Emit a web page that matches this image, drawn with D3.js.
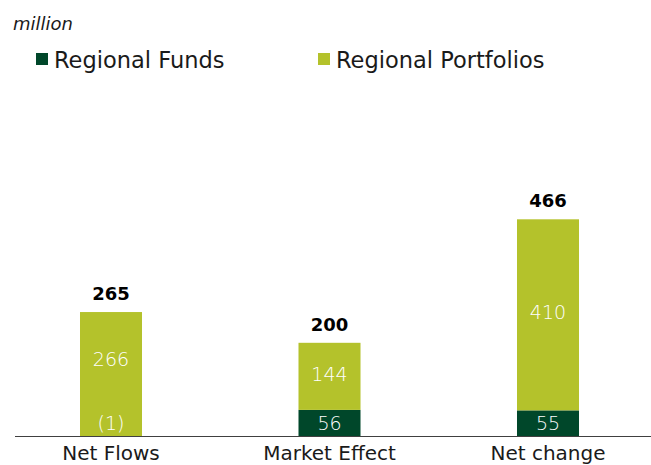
<!DOCTYPE html>
<html>
<head>
<meta charset="utf-8">
<script src="https://cdn.jsdelivr.net/npm/d3@7"></script>
<style>
  html, body { margin: 0; padding: 0; background: #fff; }
  svg { display: block; }
  text { font-family: "DejaVu Sans", "Lato", sans-serif; }
</style>
</head>
<body>
<svg id="chart" width="651" height="465"></svg>
<script>
const categories = ["Net Flows", "Market Effect", "Net change"];
const seriesNames = ["Regional Funds", "Regional Portfolios"];
const regionalFunds = [-1, 56, 55];
const regionalPortfolios = [266, 144, 410];
const totals = [265, 200, 466];
const unitLabel = "million";

const colors = { "Regional Funds": "#00472a", "Regional Portfolios": "#b4c22b" };
const svg = d3.select("#chart");

const rows = categories.map((c, i) => ({
  category: c,
  "Regional Funds": regionalFunds[i],
  "Regional Portfolios": regionalPortfolios[i],
  total: totals[i]
}));

const x = d3.scaleBand().domain(categories).range([1.75, 657.25])
  .paddingInner(0.7162).paddingOuter(0.3581);
const y = d3.scaleLinear().domain([0, 500]).range([436, 203]);

const stack = d3.stack().keys(seriesNames).offset(d3.stackOffsetDiverging);
const layers = stack(rows);

const fmt = v => v < 0 ? "(" + Math.abs(v) + ")" : String(v);
const minZone = 26;

// unit label
svg.append("text").attr("x", 13).attr("y", 30)
  .attr("font-size", 18).attr("font-style", "italic").attr("fill", "#1a1a1a")
  .text(unitLabel);

// legend
const legendX = [36, 318];
seriesNames.forEach((s, i) => {
  const g = svg.append("g").attr("transform", `translate(${legendX[i]},0)`);
  g.append("rect").attr("x", 0).attr("y", 53).attr("width", 12).attr("height", 12).attr("fill", colors[s]);
  g.append("text").attr("x", 18).attr("y", 68).attr("font-size", 22.5)
    .attr("fill", "#1a1a1a").text(s);
});

// bars
layers.forEach(layer => {
  const key = layer.key;
  svg.append("g").selectAll("rect").data(layer).join("rect")
    .attr("x", d => x(d.data.category))
    .attr("width", x.bandwidth())
    .attr("y", d => y(Math.max(d[0], d[1])))
    .attr("height", d => Math.abs(y(d[0]) - y(d[1])))
    .attr("fill", colors[key]);
});

// inner labels
const fundsLayer = layers[0], portLayer = layers[1];
rows.forEach((r, i) => {
  const cx = x(r.category) + x.bandwidth() / 2;
  const y0 = y(0);
  const fh = Math.max(Math.abs(y(fundsLayer[i][1]) - y(fundsLayer[i][0])), minZone);
  const fy = y0 - fh / 2;
  const pTop = y(portLayer[i][1]);
  const pBot = Math.min(y(portLayer[i][0]), y0 - minZone);
  const py = (pTop + pBot) / 2;
  svg.append("text").attr("x", cx).attr("y", fy).attr("dy", "0.36em")
    .attr("text-anchor", "middle").attr("font-size", 19).attr("font-weight", 300).attr("fill", "#fff")
    .text(fmt(r["Regional Funds"]));
  svg.append("text").attr("x", cx).attr("y", py - 2).attr("dy", "0.36em")
    .attr("text-anchor", "middle").attr("font-size", 19).attr("font-weight", 300).attr("fill", "#fff")
    .text(fmt(r["Regional Portfolios"]));
  // totals
  svg.append("text").attr("x", cx).attr("y", pTop - 12)
    .attr("text-anchor", "middle").attr("font-size", 18).attr("font-weight", "bold")
    .attr("fill", "#000").text(r.total);
});

// axis line
svg.append("line").attr("x1", 15).attr("x2", 651).attr("y1", y(0) + 0.5).attr("y2", y(0) + 0.5)
  .attr("stroke", "#404040").attr("stroke-width", 1);

// category labels
svg.append("g").selectAll("text").data(categories).join("text")
  .attr("x", d => x(d) + x.bandwidth() / 2)
  .attr("y", 460)
  .attr("text-anchor", "middle").attr("font-size", 20).attr("fill", "#1a1a1a")
  .text(d => d);
</script>
</body>
</html>
